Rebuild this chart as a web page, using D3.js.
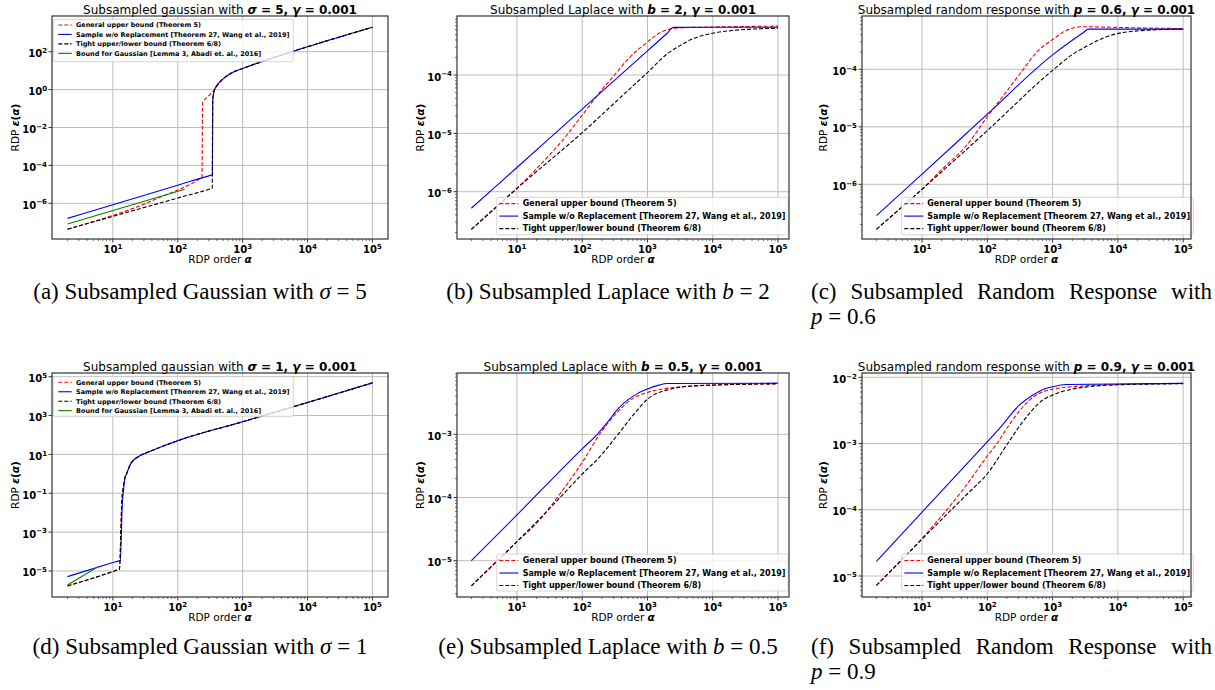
<!DOCTYPE html>
<html>
<head>
<meta charset="UTF-8">
<script src="https://d3js.org/d3.v7.min.js"></script>
<style>
  body { margin: 0; background: #fff; }
  svg text { font-family: "DejaVu Sans", sans-serif; }
  svg text.cap { font-family: "Liberation Serif", "Times New Roman", serif; }
</style>
</head>
<body>
<svg id="fig" width="1215" height="690"></svg>
<script>
// ---------- values: [alpha, epsilon] ----------
const xMajor = [1e1, 1e2, 1e3, 1e4, 1e5];

// (a) gaussian, sigma = 5
const g5Tail    = [[400,1.6],[450,2.6],[700,8],[1000,13],[2300,36],[10000,182],[100000,1950]];
const g5General = [[2,4.3e-8],[10,2.3e-7],[30,8.9e-7],[52,2.0e-6],[100,5.0e-6],[170,1.17e-5],[220,2.0e-5],[236,2.3e-5],[242,0.2],[260,0.3],[290,0.42],[330,0.65],[370,1.0]];
const g5Wang    = [[2,1.6e-7],[100,9.0e-6],[330,3.07e-5],[342,3.17e-5],[347,0.3],[356,0.6],[370,1.0]];
const g5Tight   = [[2,4.3e-8],[100,1.9e-6],[330,6.0e-6],[340,6.2e-6],[345,0.25],[356,0.6],[370,1.0]];
const g5Abadi   = [[2,8.1e-8],[128,5.5e-6]];
const g5YTicks  = [1e-6, 1e-4, 1e-2, 1, 1e2];

// (b) laplace, b = 2
const lap2General = [[2,2.26e-7],[5,5.6e-7],[10,1.14e-6],[20,2.5e-6],[50,7.6e-6],[100,2.05e-5],[200,5.6e-5],[300,9.5e-5],[500,1.86e-4],[1000,3.7e-4],[1500,5.2e-4],[2000,6.0e-4],[3000,6.45e-4],[10000,6.65e-4],[100000,6.9e-4]];
const lap2Wang    = [[2,5.2e-7],[10,2.6e-6],[100,2.6e-5],[1000,2.6e-4],[2000,5.2e-4],[2500,6.55e-4],[100000,6.6e-4]];
const lap2Tight   = [[2,2.26e-7],[10,1.14e-6],[100,1.03e-5],[500,5.4e-5],[1000,1.1e-4],[2000,2.3e-4],[3000,3.1e-4],[5000,4.2e-4],[10000,5.2e-4],[20000,5.8e-4],[50000,6.2e-4],[100000,6.35e-4]];
const lap2YTicks  = [1e-6, 1e-5, 1e-4];

// (c) random response, p = 0.6
const rr6General = [[2,1.65e-7],[5,4.1e-7],[10,8.2e-7],[20,1.8e-6],[50,5.0e-6],[100,1.5e-5],[200,4.2e-5],[350,9.8e-5],[550,1.9e-4],[1000,3.3e-4],[1800,5.0e-4],[3000,5.5e-4],[10000,5.35e-4],[100000,5.1e-4]];
const rr6Wang    = [[2,2.85e-7],[10,1.5e-6],[100,1.66e-5],[1000,1.78e-4],[2000,3.2e-4],[3000,4.4e-4],[3500,5.0e-4],[100000,5.0e-4]];
const rr6Tight   = [[2,1.65e-7],[10,8.2e-7],[100,8.6e-6],[1000,9.6e-5],[2000,1.8e-4],[3500,2.6e-4],[6000,3.5e-4],[10000,4.2e-4],[30000,4.8e-4],[100000,5.0e-4]];
const rr6YTicks  = [1e-6, 1e-5, 1e-4];

// (d) gaussian, sigma = 1
const g1Tail    = [[16,0.87],[19,3.5],[25.7,8.3],[36.6,14],[60,27],[100,51],[1000,480],[10000,4700],[100000,4.8e4]];
const g1General = [[2,1.7e-6],[10,9.3e-6],[12,1.15e-5],[12.6,1.2e-5],[13.8,0.05],[14.6,0.25],[15.3,0.6]];
const g1Wang    = [[2,5.1e-6],[10,2.7e-5],[12.5,3.4e-5],[13,3.6e-5],[14,0.03],[14.6,0.15],[15.3,0.6]];
const g1Tight   = [[2,1.7e-6],[10,9.3e-6],[12,1.15e-5],[12.6,1.2e-5],[13.8,0.05],[14.6,0.25],[15.3,0.6]];
const g1Abadi   = [[2,1.9e-6],[5.9,1.65e-5]];
const g1YTicks  = [1e-5, 1e-3, 1e-1, 1e1, 1e3, 1e5];

// (e) laplace, b = 0.5
const lapHGeneral = [[2,4.0e-6],[10,2.0e-5],[20,3.9e-5],[50,1.3e-4],[100,3.6e-4],[185,1.0e-3],[333,2.15e-3],[600,3.7e-3],[1000,4.6e-3],[3000,5.6e-3],[10000,6.0e-3],[100000,6.3e-3]];
const lapHWang    = [[2,1.0e-5],[10,5.3e-5],[100,5.9e-4],[170,1.0e-3],[250,1.6e-3],[350,2.5e-3],[500,3.5e-3],[700,4.4e-3],[1000,5.2e-3],[1500,6.0e-3],[2000,6.35e-3],[100000,6.45e-3]];
const lapHTight   = [[2,4.0e-6],[10,2.0e-5],[50,1.1e-4],[100,2.35e-4],[185,4.4e-4],[333,9.2e-4],[600,2.0e-3],[1000,3.6e-3],[1950,5.0e-3],[6300,5.9e-3],[100000,6.3e-3]];
const lapHYTicks  = [1e-5, 1e-4, 1e-3];

// (f) random response, p = 0.9
const rr9General = [[2,7.2e-6],[10,3.7e-5],[50,2.5e-4],[100,6.5e-4],[140,1.0e-3],[215,1.9e-3],[345,3.5e-3],[500,5.0e-3],[700,6.0e-3],[1000,6.6e-3],[3000,7.4e-3],[10000,7.8e-3],[100000,8.1e-3]];
const rr9Wang    = [[2,1.66e-5],[10,9.2e-5],[94,1.0e-3],[170,1.9e-3],[300,3.7e-3],[500,5.4e-3],[700,6.5e-3],[1000,7.2e-3],[1600,7.8e-3],[100000,8.1e-3]];
const rr9Tight   = [[2,7.2e-6],[10,3.6e-5],[50,1.76e-4],[100,3.5e-4],[205,1.0e-3],[345,2.1e-3],[700,4.5e-3],[1000,5.4e-3],[2300,6.8e-3],[10000,7.7e-3],[100000,8.0e-3]];
const rr9YTicks  = [1e-5, 1e-4, 1e-3, 1e-2];

const legendLabels = [
  "General upper bound (Theorem 5)",
  "Sample w/o Replacement [Theorem 27, Wang et al., 2019]",
  "Tight upper/lower bound (Theorem 6/8)",
  "Bound for Gaussian [Lemma 3, Abadi et. al., 2016]"
];

// ---------- styles ----------
const RED = "#ff0000", BLUE = "#0000ff", BLACK = "#000000", GREEN = "#008000";
const DASH = "4,2";

const smallLeg = { fs: 6.5, gap: 9.45, hw: 13.4, w: 240 };
const bigLeg   = { fs: 8, gap: 12.5, hw: 19, w: 291.6 };

const panels = [
  { x0: 52, x1: 388, y0: 16, y1: 239, xd: [0.062, 5.24], yd: [-7.884, 3.884], yTicks: g5YTicks, minorY: false,
    title: "Subsampled gaussian with ", math: "σ = 5, γ = 0.001", ylabX: 15,
    series: [[g5General.concat(g5Tail), RED, DASH], [g5Wang.concat(g5Tail), BLUE, null], [g5Tight.concat(g5Tail), BLACK, DASH], [g5Abadi, GREEN, null]],
    leg: Object.assign({ bx: 53.3, by: 19.3, bh: 42.4, hx: 58.3, tx: 76, ry: 25 }, smallLeg) },
  { x0: 457, x1: 789, y0: 16, y1: 239, xd: [0.081, 5.169], yd: [-6.811, -2.988], yTicks: lap2YTicks, minorY: true,
    title: "Subsampled Laplace with ", math: "b = 2, γ = 0.001", ylabX: 420,
    series: [[lap2General, RED, DASH], [lap2Wang, BLUE, null], [lap2Tight, BLACK, DASH]],
    leg: Object.assign({ bx: 496.7, by: 197.3, bh: 37.5, hx: 499.3, tx: 522.7, ry: 203.6 }, bigLeg) },
  { x0: 862, x1: 1191, y0: 16, y1: 239, xd: [0.08, 5.12], yd: [-6.951, -3.073], yTicks: rr6YTicks, minorY: true,
    title: "Subsampled random response with ", math: "p = 0.6, γ = 0.001", ylabX: 823,
    series: [[rr6General, RED, DASH], [rr6Wang, BLUE, null], [rr6Tight, BLACK, DASH]],
    leg: Object.assign({ bx: 901.7, by: 197.3, bh: 37.5, hx: 904.3, tx: 927.3, ry: 203.6 }, bigLeg) },
  { x0: 52, x1: 388, y0: 373, y1: 597, xd: [0.062, 5.24], yd: [-6.34, 5.19], yTicks: g1YTicks, minorY: false,
    title: "Subsampled gaussian with ", math: "σ = 1, γ = 0.001", ylabX: 15,
    series: [[g1General.concat(g1Tail), RED, DASH], [g1Wang.concat(g1Tail), BLUE, null], [g1Tight.concat(g1Tail), BLACK, DASH], [g1Abadi, GREEN, null]],
    leg: Object.assign({ bx: 53.3, by: 376.7, bh: 40, hx: 58.3, tx: 76, ry: 382.3 }, smallLeg) },
  { x0: 457, x1: 789, y0: 373, y1: 597, xd: [0.081, 5.169], yd: [-5.574, -2.03], yTicks: lapHYTicks, minorY: true,
    title: "Subsampled Laplace with ", math: "b = 0.5, γ = 0.001", ylabX: 420,
    series: [[lapHGeneral, RED, DASH], [lapHWang, BLUE, null], [lapHTight, BLACK, DASH]],
    leg: Object.assign({ bx: 496.7, by: 554, bh: 37, hx: 499.3, tx: 522.7, ry: 560.5 }, bigLeg) },
  { x0: 862, x1: 1191, y0: 373, y1: 597, xd: [0.08, 5.12], yd: [-5.317, -1.935], yTicks: rr9YTicks, minorY: true,
    title: "Subsampled random response with ", math: "p = 0.9, γ = 0.001", ylabX: 823,
    series: [[rr9General, RED, DASH], [rr9Wang, BLUE, null], [rr9Tight, BLACK, DASH]],
    leg: Object.assign({ bx: 901.7, by: 554, bh: 37, hx: 904.3, tx: 927.3, ry: 560.5 }, bigLeg) }
];

const svg = d3.select("#fig");

// bold mathtext: letters italic, everything else upright
function addMath(t, str) {
  str.split(/([A-Za-zα-ω]+)/).filter(s => s.length).forEach(s => {
    const isVar = /^[A-Za-zα-ω]+$/.test(s);
    t.append("tspan").attr("font-weight", "bold").attr("font-style", isVar ? "italic" : "normal").text(s);
  });
}

function powLabel(t, v) {
  const e = Math.round(Math.log10(v));
  t.append("tspan").text("10");
  t.append("tspan").attr("dy", -4.3).attr("font-size", 7).text(e < 0 ? "\u2212" + (-e) : String(e));
}

function minorTicks(d0, d1) {
  const out = [];
  for (let k = Math.floor(d0); k <= Math.ceil(d1); k++)
    for (let m = 2; m <= 9; m++) {
      const v = m * Math.pow(10, k), lv = Math.log10(v);
      if (lv > d0 && lv < d1) out.push(v);
    }
  return out;
}

panels.forEach((p, i) => {
  const x = d3.scaleLog().domain([10 ** p.xd[0], 10 ** p.xd[1]]).range([p.x0, p.x1]);
  const y = d3.scaleLog().domain([10 ** p.yd[0], 10 ** p.yd[1]]).range([p.y1, p.y0]);
  const g = svg.append("g");

  g.append("clipPath").attr("id", "clip" + i)
    .append("rect").attr("x", p.x0).attr("y", p.y0).attr("width", p.x1 - p.x0).attr("height", p.y1 - p.y0);

  // grid
  g.selectAll(".gx").data(xMajor).enter().append("line")
    .attr("x1", d => x(d)).attr("x2", d => x(d)).attr("y1", p.y0).attr("y2", p.y1)
    .attr("stroke", "#bdbdbd").attr("stroke-width", 1);
  g.selectAll(".gy").data(p.yTicks).enter().append("line")
    .attr("x1", p.x0).attr("x2", p.x1).attr("y1", d => y(d)).attr("y2", d => y(d))
    .attr("stroke", "#bdbdbd").attr("stroke-width", 1);

  // curves
  const line = d3.line().x(d => x(d[0])).y(d => y(d[1])).curve(d3.curveMonotoneX);
  const lines = g.append("g").attr("clip-path", `url(#clip${i})`);
  p.series.forEach(s => {
    lines.append("path").attr("d", line(s[0])).attr("fill", "none")
      .attr("stroke", s[1]).attr("stroke-width", 1.1)
      .attr("stroke-dasharray", s[2]);
  });

  // legend
  const L = p.leg;
  g.append("rect").attr("x", L.bx).attr("y", L.by).attr("width", L.w).attr("height", L.bh)
    .attr("rx", 2).attr("fill", "#fff").attr("fill-opacity", 0.8)
    .attr("stroke", "#cccccc").attr("stroke-width", 0.8);
  p.series.forEach((s, j) => {
    const yy = L.ry + j * L.gap;
    g.append("line").attr("x1", L.hx).attr("x2", L.hx + L.hw).attr("y1", yy).attr("y2", yy)
      .attr("stroke", s[1]).attr("stroke-width", 1.1).attr("stroke-dasharray", s[2]);
    g.append("text").attr("x", L.tx).attr("y", yy + L.fs * 0.36)
      .attr("font-size", L.fs).attr("font-weight", "bold").attr("fill", "#000")
      .text(legendLabels[j]);
  });

  // spines
  g.append("rect").attr("x", p.x0).attr("y", p.y0).attr("width", p.x1 - p.x0).attr("height", p.y1 - p.y0)
    .attr("fill", "none").attr("stroke", "#333").attr("stroke-width", 1.2);

  // x ticks
  g.selectAll(".xt").data(xMajor).enter().append("line")
    .attr("x1", d => x(d)).attr("x2", d => x(d)).attr("y1", p.y1).attr("y2", p.y1 + 3.5)
    .attr("stroke", "#333").attr("stroke-width", 1);
  g.selectAll(".xm").data(minorTicks(p.xd[0], p.xd[1])).enter().append("line")
    .attr("x1", d => x(d)).attr("x2", d => x(d)).attr("y1", p.y1).attr("y2", p.y1 + 2)
    .attr("stroke", "#333").attr("stroke-width", 0.7);
  xMajor.forEach(v => {
    const t = g.append("text").attr("x", x(v)).attr("y", p.y1 + 13.8).attr("text-anchor", "middle")
      .attr("font-size", 10).attr("font-weight", "bold").attr("fill", "#000");
    powLabel(t, v);
  });

  // y ticks
  g.selectAll(".yt").data(p.yTicks).enter().append("line")
    .attr("x1", p.x0 - 3.5).attr("x2", p.x0).attr("y1", d => y(d)).attr("y2", d => y(d))
    .attr("stroke", "#333").attr("stroke-width", 1);
  if (p.minorY) {
    g.selectAll(".ym").data(minorTicks(p.yd[0], p.yd[1])).enter().append("line")
      .attr("x1", p.x0 - 2).attr("x2", p.x0).attr("y1", d => y(d)).attr("y2", d => y(d))
      .attr("stroke", "#333").attr("stroke-width", 0.7);
  }
  p.yTicks.forEach(v => {
    const t = g.append("text").attr("x", p.x0 - 5).attr("y", y(v) + 5.5).attr("text-anchor", "end")
      .attr("font-size", 10).attr("font-weight", "bold").attr("fill", "#000");
    powLabel(t, v);
  });

  // axis labels
  const xl = g.append("text").attr("x", (p.x0 + p.x1) / 2).attr("y", p.y1 + 24)
    .attr("text-anchor", "middle").attr("font-size", 10.5).attr("fill", "#000");
  xl.append("tspan").text("RDP order ");
  addMath(xl, "α");

  const yl = g.append("text")
    .attr("transform", `translate(${p.ylabX},${(p.y0 + p.y1) / 2}) rotate(-90)`)
    .attr("text-anchor", "middle").attr("dy", "0.35em").attr("font-size", 10.5).attr("fill", "#000");
  yl.append("tspan").text("RDP ");
  addMath(yl, "ε(α)");

  // title
  const tt = g.append("text").attr("x", (p.x0 + p.x1) / 2).attr("y", p.y0 - 2)
    .attr("text-anchor", "middle").attr("font-size", 12).attr("fill", "#000");
  tt.append("tspan").text(p.title);
  addMath(tt, p.math);
});

// ---------- captions ----------
const CAP = 23;
function caption(cx, yb, parts) {
  const t = svg.append("text").attr("class", "cap").attr("x", cx).attr("y", yb)
    .attr("text-anchor", "middle").attr("font-size", CAP).attr("fill", "#000");
  parts.forEach(([s, it]) => t.append("tspan").attr("font-style", it ? "italic" : "normal").text(s));
}
caption(200, 299, [["(a) Subsampled Gaussian with ", 0], ["σ", 1], [" = 5", 0]]);
caption(608, 299, [["(b) Subsampled Laplace with ", 0], ["b", 1], [" = 2", 0]]);
caption(200, 654, [["(d) Subsampled Gaussian with ", 0], ["σ", 1], [" = 1", 0]]);
caption(608, 654, [["(e) Subsampled Laplace with ", 0], ["b", 1], [" = 0.5", 0]]);

// justified two-line captions in the right column
function justified(xl, xr, yb, words, second) {
  const nodes = words.map(w => svg.append("text").attr("class", "cap").attr("y", yb)
    .attr("font-size", CAP).attr("fill", "#000").text(w));
  const widths = nodes.map(n => n.node().getComputedTextLength());
  const gapW = (xr - xl - d3.sum(widths)) / (words.length - 1);
  let cx = xl;
  nodes.forEach((n, k) => { n.attr("x", cx); cx += widths[k] + gapW; });
  const t = svg.append("text").attr("class", "cap").attr("x", xl).attr("y", yb + 25)
    .attr("font-size", CAP).attr("fill", "#000");
  second.forEach(([s, it]) => t.append("tspan").attr("font-style", it ? "italic" : "normal").text(s));
}
justified(811, 1212, 299, ["(c)", "Subsampled", "Random", "Response", "with"], [["p", 1], [" = 0.6", 0]]);
justified(811, 1212, 654, ["(f)", "Subsampled", "Random", "Response", "with"], [["p", 1], [" = 0.9", 0]]);
</script>
</body>
</html>
